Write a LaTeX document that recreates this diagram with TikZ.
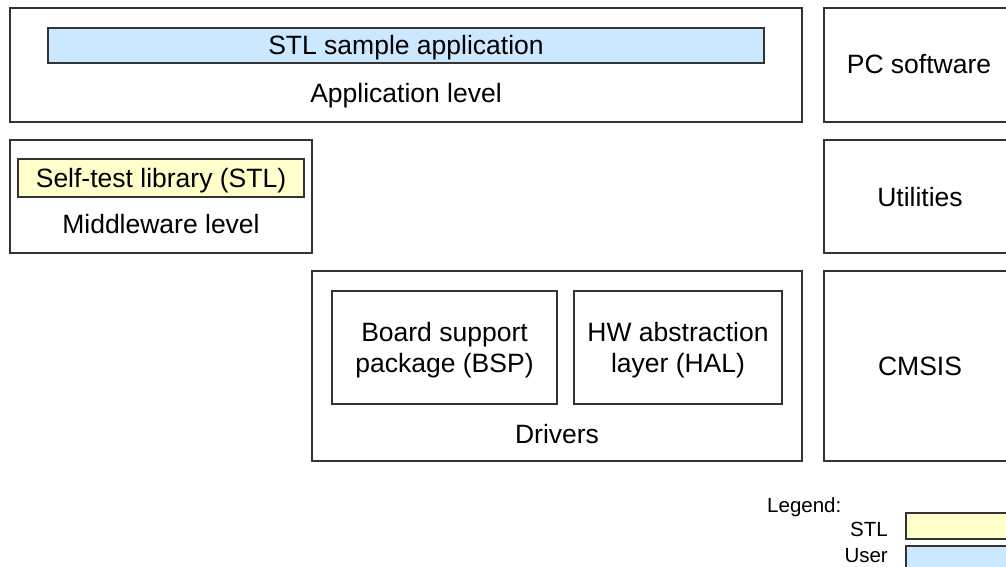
\documentclass[tikz,border=0pt]{standalone}
\usepackage{fontspec}
\setmainfont{Liberation Sans}
\definecolor{userblue}{HTML}{CCE8FF}
\definecolor{stlyellow}{HTML}{FFFFCC}
\definecolor{edge}{HTML}{333333}
\begin{document}
\begin{tikzpicture}[x=1pt,y=-1pt,
  box/.style={draw=edge, line width=1.2pt, inner sep=0pt, outer sep=0pt},
  lbl/.style={font=\fontsize{26.5}{31}\selectfont, inner sep=0pt, anchor=base, align=center},
  leg/.style={font=\fontsize{20.5}{24}\selectfont, inner sep=0pt, anchor=base east}]
\useasboundingbox (0,0) rectangle (1006,567);
\clip (0,0) rectangle (1006,567);
% application level
\node[box, minimum width=792pt, minimum height=114pt] (app) at (406,65) {};
\node[box, fill=userblue, minimum width=716pt, minimum height=35pt] (stlapp) at (406,45.5) {};
\node[lbl] (stlapptxt) at (406,55) {STL sample application};
\node[lbl] (apptxt) at (406,103) {Application level};
% PC software
\node[box, minimum width=194pt, minimum height=114pt] (pc) at (921,65) {};
\node[lbl] (pctxt) at (919,74) {PC software};
% middleware
\node[box, minimum width=302pt, minimum height=113pt] (mid) at (161,196.5) {};
\node[box, fill=stlyellow, minimum width=286pt, minimum height=38pt] (stl) at (161,178) {};
\node[lbl] (stltxt) at (161,187) {Self-test library (STL)};
\node[lbl] (midtxt) at (161,233) {Middleware level};
% utilities
\node[box, minimum width=194pt, minimum height=113pt] (util) at (921,196.5) {};
\node[lbl] (utiltxt) at (920,206) {Utilities};
% drivers
\node[box, minimum width=490pt, minimum height=190pt] (drv) at (557,366) {};
\node[box, minimum width=225pt, minimum height=113pt] (bsp) at (444.5,347.5) {};
\node[lbl] (bsptxt1) at (444.5,341) {Board support};
\node[lbl] (bsptxt2) at (444.5,372) {package (BSP)};
\node[box, minimum width=208pt, minimum height=113pt] (hal) at (678,347.5) {};
\node[lbl] (haltxt1) at (678,341) {HW abstraction};
\node[lbl] (haltxt2) at (678,372) {layer (HAL)};
\node[lbl] (drvtxt) at (557,443) {Drivers};
% CMSIS
\node[box, minimum width=194pt, minimum height=190pt] (cmsis) at (921,366) {};
\node[lbl] (cmsistxt) at (920,375) {CMSIS};
% legend
\node[font=\fontsize{20.5}{24}\selectfont, inner sep=0pt, anchor=base west] (legtxt) at (767,512) {Legend:};
\node[leg] (legstl) at (888,536.5) {STL};
\node[leg] (leguser) at (888,562) {User};
\node[box, fill=stlyellow, minimum width=120pt, minimum height=26pt] (legstlbox) at (966,526) {};
\node[box, fill=userblue, minimum width=120pt, minimum height=30pt] (leguserbox) at (966,561) {};
\end{tikzpicture}
\end{document}
